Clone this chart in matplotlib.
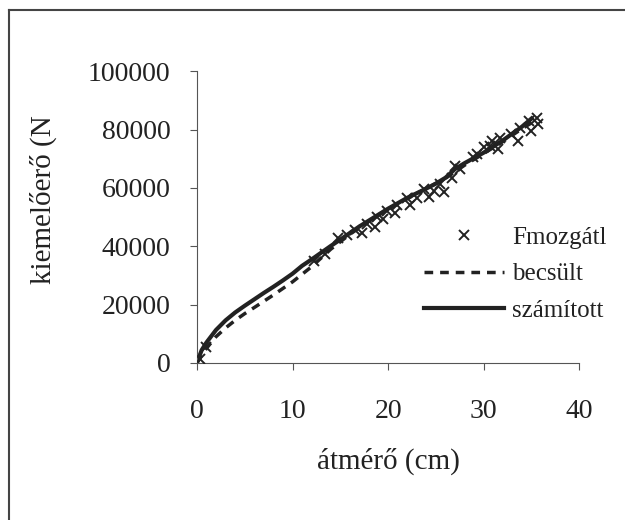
import numpy as np
import matplotlib.pyplot as plt
from matplotlib.lines import Line2D

# számított (solid line)
szam_x = [0, 0.5, 1, 2, 3, 4, 5, 6, 7, 8, 9, 10, 11, 12, 13, 14, 15, 17, 20, 22, 24, 25, 26, 27, 28, 30, 32, 34, 35]
szam_y = [0, 4400, 7000, 11300, 14600, 17300, 19600, 21800, 24000, 26100, 28300, 30600, 33300, 35500,
          37800, 40100, 42300, 46800, 52900, 56600, 59800, 61500, 63500, 66500, 68500, 72100, 76300, 81000, 83800]

# becsült (dashed line)
becs_x = [0, 1, 2, 3, 4, 5, 6, 8, 10, 12, 14, 16, 18, 20, 22, 24, 26, 28, 30, 32, 34, 35.5]
becs_y = [0, 5000, 9000, 12000, 14600, 16900, 19000, 23300, 27800, 33000, 39000, 44100, 48700, 52800,
          56300, 59800, 63300, 67800, 71800, 75900, 80300, 83300]

# Fmozgátl (x markers)
fm_x = [0.3, 1.0, 12.2, 13.4, 14.8, 15.7, 16.5, 17.3, 17.8, 18.6, 18.8, 19.5, 19.9, 20.7, 20.9, 22.0, 22.3,
        23.0, 23.7, 24.3, 24.8, 25.4, 25.8, 26.7, 27.0, 27.5, 28.9, 29.3, 30.0, 30.7, 30.9, 31.5, 31.7,
        32.8, 33.6, 33.8, 34.7, 34.9, 35.6, 35.7]
fm_y = [1500, 5500, 35100, 37500, 43000, 44000, 45500, 44500, 47500, 46500, 50000, 49400, 52000, 51500,
        54000, 56500, 54000, 56500, 59500, 57000, 59000, 61500, 58500, 63500, 67500, 66500, 70500, 71500,
        74000, 74500, 76000, 73500, 77000, 78500, 76000, 80500, 83000, 79500, 84000, 82000]

plt.rcParams['font.family'] = ['Liberation Serif', 'DejaVu Serif']

fig = plt.figure(figsize=(6.25, 5.2), dpi=100)
ax = fig.add_axes([0.315, 0.302, 0.612, 0.561])

ink = '#222222'
ax.plot(fm_x, fm_y, 'x', color=ink, ms=7, mew=1.4, label='Fmozgátl', zorder=3)
ax.plot(becs_x, becs_y, color=ink, lw=2.5, dashes=(2.5, 2), label='becsült')
ax.plot(szam_x, szam_y, color=ink, lw=3, label='számított')

ax.set_xlim(0, 40)
ax.set_ylim(0, 100000)
ax.set_xticks([0, 10, 20, 30, 40])
ax.set_yticks([0, 20000, 40000, 60000, 80000, 100000])
ax.spines['right'].set_color('none')
ax.spines['top'].set_color('none')
ax.spines['left'].set_color('#555555')
ax.spines['bottom'].set_color('#555555')
ax.tick_params(axis='both', direction='out', length=5, color='#555555', labelsize=20, labelcolor=ink)
ax.tick_params(axis='x', pad=21)
ax.tick_params(axis='y', pad=14)

ax.set_xlabel('átmérő (cm)', fontsize=21, color=ink, labelpad=17)
ax.set_ylabel('kiemelőerő (N', fontsize=21, color=ink)
ax.yaxis.set_label_coords(-0.365, 0.56)

ax.legend(loc='center left', bbox_to_anchor=(0.643, 0.473), bbox_transform=fig.transFigure,
          frameon=False, fontsize=18, handlelength=3.2, handletextpad=0.3, labelspacing=0.55,
          labelcolor=ink)

# outer frame (only left and top edges visible in the original)
fig.add_artist(Line2D([0.0144, 0.0144], [0.0, 0.981], transform=fig.transFigure, color='#444444', lw=1.5))
fig.add_artist(Line2D([0.0144, 1.0], [0.981, 0.981], transform=fig.transFigure, color='#444444', lw=1.5))

fig.savefig('out.png', dpi=100)
